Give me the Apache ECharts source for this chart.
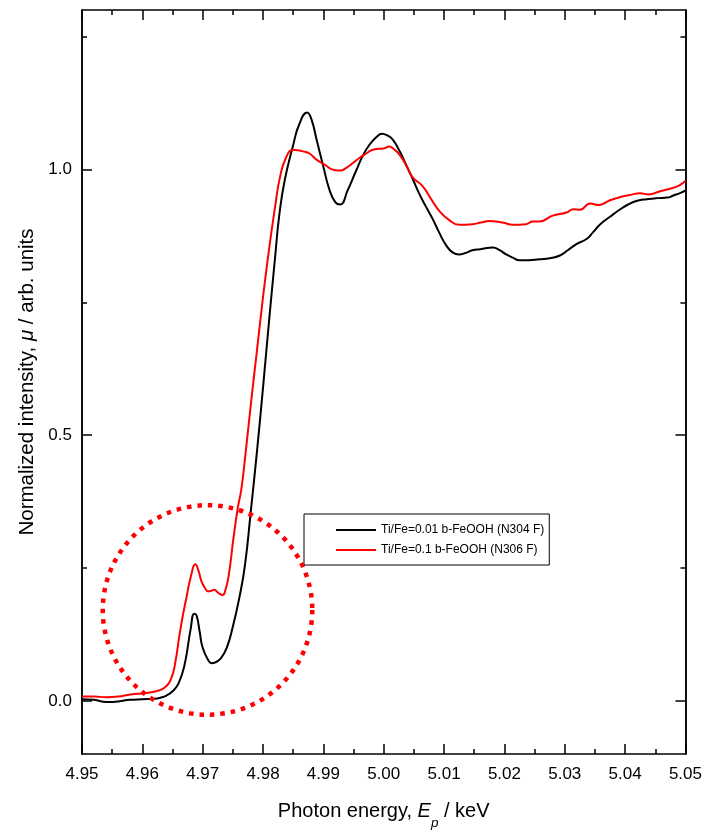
<!DOCTYPE html>
<html>
<head>
<meta charset="utf-8">
<script src="https://cdn.jsdelivr.net/npm/echarts@6/dist/echarts.min.js"></script>
<style>
html,body{margin:0;padding:0;background:#fff;}
#chart{width:705px;height:835px;}
</style>
</head>
<body>
<div id="chart"></div>
<script>
// ---- data ----
const seriesNames = ['Ti/Fe=0.01 b-FeOOH (N304 F)', 'Ti/Fe=0.1 b-FeOOH (N306 F)'];

const blackE = [4.950,4.952,4.954,4.956,4.958,4.960,4.962,4.963,4.964,4.965,4.966,4.967,4.968,4.9686,4.969,4.9695,4.970,4.971,4.9715,4.972,4.973,4.974,4.975,4.976,4.977,4.978,4.979,4.980,4.981,4.982,4.9827,4.9836,4.985,4.986,4.9873,4.988,4.989,4.990,4.991,4.992,4.9928,4.994,4.9954,4.9965,4.9976,4.9988,4.9997,5.0006,5.0015,5.0026,5.0037,5.0048,5.0059,5.007,5.0081,5.0092,5.0103,5.0114,5.0125,5.0136,5.0147,5.016,5.0181,5.0192,5.0203,5.0214,5.0225,5.024,5.0258,5.0275,5.0292,5.0305,5.032,5.0336,5.0347,5.0358,5.0375,5.0392,5.0405,5.042,5.0436,5.0453,5.047,5.048,5.0492,5.050];
const blackV = [0.003,0.002,-0.002,-0.001,0.002,0.003,0.004,0.006,0.010,0.018,0.033,0.068,0.135,0.164,0.160,0.130,0.100,0.075,0.071,0.072,0.080,0.100,0.140,0.190,0.255,0.360,0.470,0.590,0.715,0.835,0.915,0.980,1.046,1.085,1.107,1.095,1.050,1.005,0.962,0.938,0.934,0.960,0.997,1.025,1.046,1.061,1.067,1.064,1.056,1.035,1.009,0.982,0.954,0.930,0.907,0.881,0.858,0.844,0.840,0.843,0.848,0.850,0.853,0.848,0.840,0.834,0.829,0.829,0.831,0.833,0.838,0.848,0.860,0.869,0.882,0.896,0.911,0.925,0.934,0.941,0.944,0.946,0.947,0.951,0.956,0.960];

const redE = [4.950,4.952,4.954,4.956,4.958,4.9607,4.9623,4.9637,4.9648,4.9655,4.9661,4.9667,4.9673,4.968,4.9688,4.9693,4.9698,4.9704,4.9709,4.9714,4.9719,4.9726,4.9733,4.9738,4.9743,4.9751,4.9758,4.9764,4.977,4.978,4.979,4.980,4.981,4.982,4.9828,4.9838,4.985,4.9858,4.9866,4.9877,4.9888,4.9902,4.9918,4.9928,4.9938,4.9949,4.996,4.9971,4.9982,5.0001,5.0009,5.0017,5.0026,5.0037,5.0048,5.0064,5.0078,5.0092,5.0108,5.0125,5.0147,5.0161,5.0175,5.0197,5.0214,5.0236,5.0247,5.0258,5.028,5.0303,5.0314,5.0325,5.0342,5.0356,5.0375,5.0392,5.0408,5.0425,5.0439,5.0458,5.0481,5.049,5.050];
const redV = [0.008,0.008,0.007,0.008,0.012,0.015,0.018,0.025,0.043,0.075,0.120,0.160,0.194,0.232,0.257,0.245,0.225,0.212,0.206,0.207,0.209,0.203,0.199,0.210,0.235,0.306,0.362,0.398,0.455,0.560,0.660,0.760,0.850,0.930,0.985,1.022,1.037,1.036,1.034,1.030,1.019,1.009,0.999,0.998,1.003,1.012,1.022,1.030,1.037,1.040,1.043,1.038,1.028,1.008,0.985,0.969,0.945,0.922,0.905,0.896,0.897,0.900,0.903,0.900,0.896,0.897,0.902,0.902,0.913,0.919,0.925,0.924,0.936,0.933,0.942,0.948,0.952,0.955,0.953,0.959,0.966,0.970,0.978];

const xTickLabels = ['4.95','4.96','4.97','4.98','4.99','5.00','5.01','5.02','5.03','5.04','5.05'];
const yMajorTicks = [0, 0.5, 1.0];
const yMinorTicks = [0.25, 0.75, 1.25];

// dotted circle annotation (centre in data units, radius in keV)
const circleCenter = [4.9708, 0.171];
const circleRadiusE = 0.01736;

// ---- chart ----
const FONT = 'Liberation Sans, Arial, sans-serif';
const chart = echarts.init(document.getElementById('chart'));
const zip = (a, b) => a.map((v, i) => [v, b[i]]);

const yBase = {
  type: 'value', min: -0.1, max: 1.3, gridIndex: 0,
  splitLine: { show: false },
  axisLine: { show: true, onZero: false, lineStyle: { color: '#000', width: 1.5 } }
};
function yAxisDef(pos, major, withLabel, withName) {
  const ticks = major ? yMajorTicks : yMinorTicks;
  const a = Object.assign({}, yBase, {
    position: pos,
    axisTick: { show: true, inside: true, length: major ? 10 : 5, customValues: ticks, lineStyle: { color: '#000', width: 1.5 } },
    axisLabel: withLabel ? { show: true, customValues: ticks, formatter: v => v.toFixed(1), fontSize: 17, color: '#000', fontFamily: FONT, margin: 10 } : { show: false }
  });
  if (withName) {
    a.name = '{n|Normalized intensity, }{i|μ}{n| / arb. units}';
    a.nameLocation = 'middle';
    a.nameGap = 44;
    a.nameTextStyle = {
      rich: {
        n: { fontSize: 20.5, color: '#000', fontFamily: FONT },
        i: { fontSize: 20.5, color: '#000', fontFamily: FONT, fontStyle: 'italic' }
      }
    };
  }
  return a;
}

const xBase = {
  type: 'value', min: 4.95, max: 5.05, interval: 0.01,
  splitLine: { show: false },
  axisLine: { show: true, onZero: false, lineStyle: { color: '#000', width: 1.5 } },
  axisTick: { show: true, inside: true, length: 10, lineStyle: { color: '#000', width: 1.5 } },
  minorTick: { show: true, splitNumber: 2, length: 5, lineStyle: { color: '#000', width: 1.5 } },
  minorSplitLine: { show: false }
};

const option = {
  backgroundColor: '#fff',
  animation: false,
  grid: { left: 82, right: 18, top: 10, bottom: 69, containLabel: false },
  xAxis: [
    Object.assign({}, xBase, {
      position: 'bottom',
      axisLabel: { show: true, fontSize: 17, color: '#000', fontFamily: FONT, margin: 12,
        formatter: v => { const i = Math.round((v - 4.95) / 0.01); return xTickLabels[i] !== undefined ? xTickLabels[i] : ''; } },
      name: '{n|Photon energy, }{i|E}{s|p}{n| / keV}',
      nameLocation: 'middle',
      nameGap: 38,
      nameTextStyle: {
        rich: {
          n: { fontSize: 20, color: '#000', fontFamily: FONT, lineHeight: 25 },
          i: { fontSize: 20, color: '#000', fontFamily: FONT, fontStyle: 'italic', lineHeight: 25 },
          s: { fontSize: 13.5, color: '#000', fontFamily: FONT, fontStyle: 'italic', lineHeight: 38, verticalAlign: 'bottom' }
        }
      }
    }),
    Object.assign({}, xBase, { position: 'top', axisLabel: { show: false } })
  ],
  yAxis: [
    yAxisDef('left', true, true, true),
    yAxisDef('left', false, false, false),
    yAxisDef('right', true, false, false),
    yAxisDef('right', false, false, false)
  ],
  legend: {
    left: 304, top: 514,
    orient: 'vertical',
    data: seriesNames,
    icon: 'rect',
    backgroundColor: '#fff',
    borderColor: '#000', borderWidth: 1,
    padding: [9, 5, 8, 32],
    itemWidth: 40, itemHeight: 2, itemGap: 6,
    textStyle: { fontSize: 12, color: '#000', fontFamily: FONT, lineHeight: 14 }
  },
  series: [
    {
      name: seriesNames[0], type: 'line', xAxisIndex: 0, yAxisIndex: 0,
      data: zip(blackE, blackV), symbol: 'none', smooth: 0.5,
      lineStyle: { color: '#000', width: 2 }, itemStyle: { color: '#000' }, z: 3
    },
    {
      name: seriesNames[1], type: 'line', xAxisIndex: 0, yAxisIndex: 0,
      data: zip(redE, redV), symbol: 'none', smooth: 0.5,
      lineStyle: { color: '#ff0000', width: 2 }, itemStyle: { color: '#ff0000' }, z: 4
    },
    {
      type: 'custom', xAxisIndex: 0, yAxisIndex: 0, silent: true, z: 5,
      data: [[circleCenter[0], circleCenter[1], circleRadiusE]],
      renderItem: function (params, api) {
        const c = api.coord([api.value(0), api.value(1)]);
        const r = api.size([api.value(2), 0])[0];
        return {
          type: 'circle',
          shape: { cx: c[0], cy: c[1], r: r },
          style: { fill: 'none', stroke: '#ff0000', lineWidth: 4.5, lineDash: [4.5, 6], lineCap: 'butt' }
        };
      }
    }
  ]
};
chart.setOption(option);
</script>
</body>
</html>
